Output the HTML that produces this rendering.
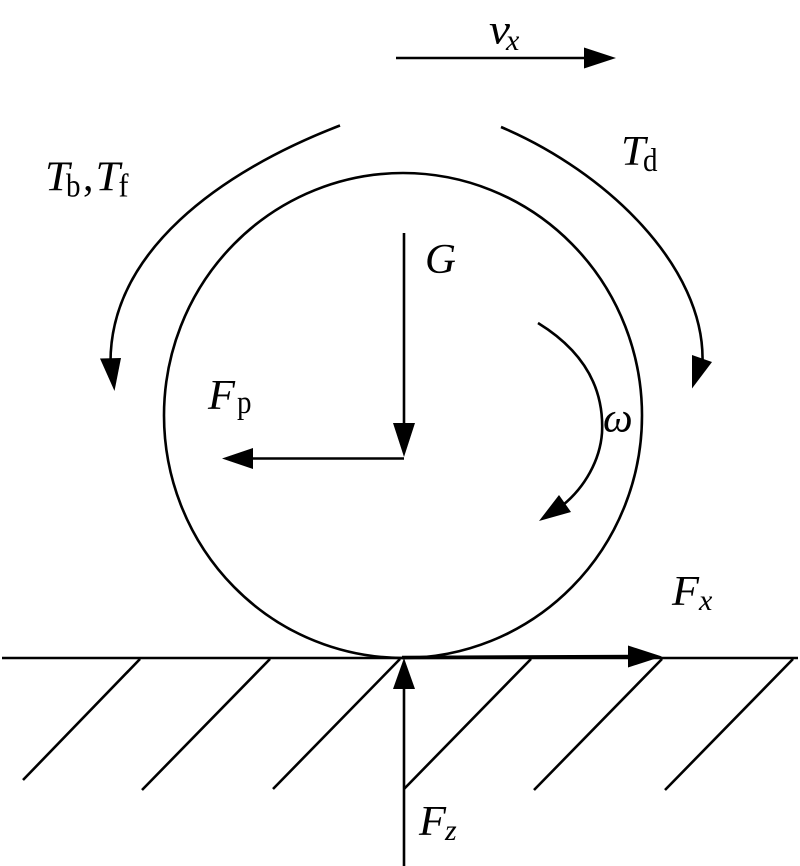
<!DOCTYPE html>
<html><head><meta charset="utf-8"><style>
html,body{margin:0;padding:0;background:#fff;width:800px;height:866px;overflow:hidden}
svg{display:block}
text{font-family:"Liberation Serif",serif;fill:#000}
.m{font-size:42px;font-style:italic}
.s{font-size:33px}
.si{font-size:30px;font-style:italic}
</style></head><body>
<svg width="800" height="866" viewBox="0 0 800 866" xmlns="http://www.w3.org/2000/svg">
<g fill="none" stroke="#000" stroke-width="2.6">
<ellipse cx="403" cy="415.5" rx="239" ry="242.5"/>
<line x1="2" y1="658" x2="798" y2="658"/>
<line x1="140" y1="659" x2="23" y2="780"/>
<line x1="270" y1="659" x2="142" y2="790"/>
<line x1="400" y1="659" x2="273" y2="789"/>
<line x1="531" y1="659" x2="404" y2="789"/>
<line x1="662" y1="659" x2="534" y2="790"/>
<line x1="793" y1="659" x2="665" y2="790"/>
<line x1="396" y1="58" x2="590" y2="58"/>
<line x1="404" y1="233" x2="404" y2="430"/>
<line x1="404" y1="458.5" x2="250" y2="458.5"/>
<line x1="404" y1="866" x2="404" y2="685"/>
<path d="M340 125.5C219 172 110.5 252 110.5 362"/>
<path d="M501 127C607 172 705 267 702.5 362"/>
<path d="M538 323C590 355 604 395 602 433C600 460 585 487 563 505"/>
</g>
<line x1="402" y1="657.5" x2="640" y2="656.5" stroke="#000" stroke-width="3.6"/>
<g fill="#000">
<polygon points="584,47.5 616,58 584,68.5"/>
<polygon points="393,423 415,423 404,457"/>
<polygon points="222,458.5 253,448 253,469"/>
<polygon points="404,658 393,689 415,689"/>
<polygon points="628,645.5 662,656.5 628,667.5"/>
<polygon points="100,358.5 121,358 114.5,391"/>
<polygon points="692,355 712,362 692,388.5"/>
<polygon points="559,495 571,512 539,521"/>
</g>
<text class="m" x="45" y="190.5" textLength="24.5" lengthAdjust="spacingAndGlyphs">T</text><text class="s" x="66" y="196.5" textLength="14.5" lengthAdjust="spacingAndGlyphs">b</text><text class="m" x="83" y="190.5" style="font-style:normal">,</text><text class="m" x="95.5" y="190.5" textLength="24.5" lengthAdjust="spacingAndGlyphs">T</text><text class="s" x="118.5" y="196.5" textLength="10" lengthAdjust="spacingAndGlyphs">f</text>
<text class="m" x="621" y="165" textLength="24.5" lengthAdjust="spacingAndGlyphs">T</text><text class="s" x="643" y="171" textLength="14.5" lengthAdjust="spacingAndGlyphs">d</text>
<text class="m" x="489" y="43.5" textLength="21" lengthAdjust="spacingAndGlyphs">v</text><text class="si" x="506" y="50">x</text>
<text class="m" x="425" y="273" textLength="31" lengthAdjust="spacingAndGlyphs">G</text>
<text class="m" x="208" y="409" textLength="27" lengthAdjust="spacingAndGlyphs">F</text><text class="s" x="237" y="413" textLength="14.5" lengthAdjust="spacingAndGlyphs">p</text>
<text class="m" x="603" y="431.5">ω</text>
<text class="m" x="672" y="605" textLength="27" lengthAdjust="spacingAndGlyphs">F</text><text class="si" x="699" y="610">x</text>
<text class="m" x="419" y="835" textLength="27" lengthAdjust="spacingAndGlyphs">F</text><text class="si" x="445" y="840">z</text>
</svg>
</body></html>
